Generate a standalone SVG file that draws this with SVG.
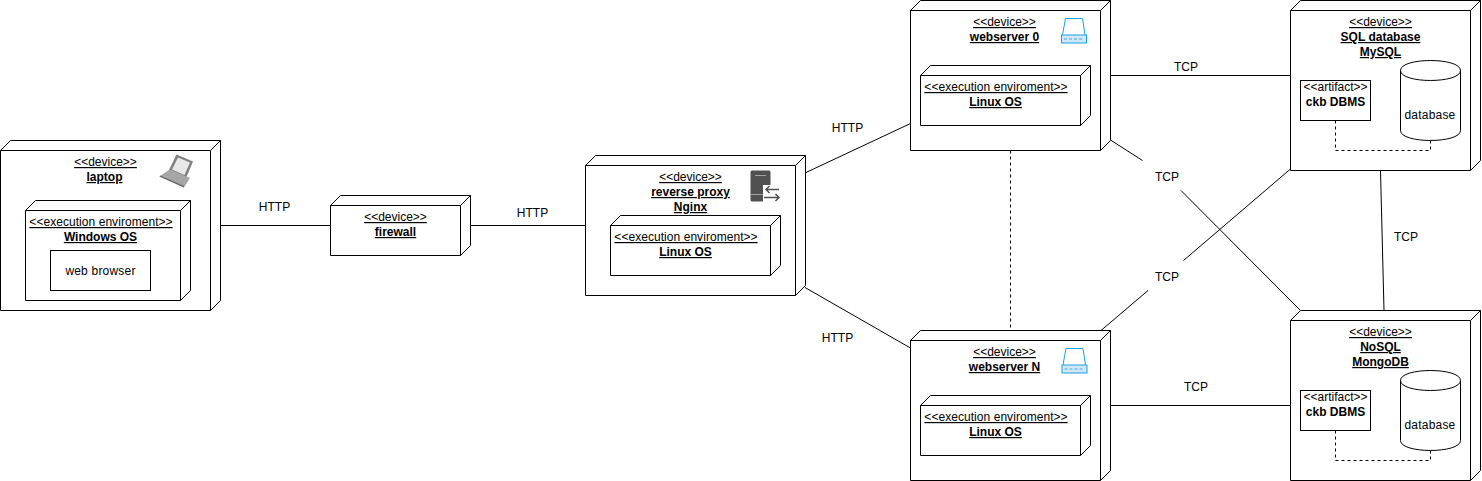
<svg xmlns="http://www.w3.org/2000/svg" width="1482" height="481" viewBox="0 0 1482 481">
<style>
text{font-family:"Liberation Sans",Arial,sans-serif;font-size:12px;fill:#000;text-anchor:middle}
.u{text-decoration:underline}
.b{font-weight:bold}
.w{letter-spacing:.2px}
.s{fill:#fff;stroke:#000;stroke-width:1}
.n{fill:none;stroke:#000;stroke-width:1}
.d{fill:none;stroke:#000;stroke-width:1;stroke-dasharray:3 3}
.c{fill:none;stroke:#000;stroke-width:1}
.hub{fill:none;stroke:#1ba1e2;stroke-width:1}
.hubb{fill:#cfe8f7;stroke:#1ba1e2;stroke-width:1}
.hubd{stroke:#7fb8de;stroke-width:1.5;stroke-dasharray:3 2;fill:none}
</style>
<defs>
<symbol id="cyl" overflow="visible">
<path class="s" d="M0 10C0-3.3 60-3.3 60 10V70C60 83.3 0 83.3 0 70Z"/>
<path class="n" d="M0 10C0 23.3 60 23.3 60 10"/>
</symbol>
<symbol id="hubicon" overflow="visible">
<path class="hub" d="M1.5 17L4.5 0.5H21.5L24 17"/>
<rect class="hubb" x="0.5" y="17" width="25" height="8"/>
<path class="hubd" d="M3 21H23"/>
</symbol>
</defs>

<g id="connectors">
<path class="c" d="M220.5 225.5H330.5"/>
<path class="c" d="M470.5 225.5H585.5"/>
<path class="c" d="M806 172.5L910.5 123.5"/>
<path class="c" d="M805 287.5L910.5 348"/>
<path class="c" d="M1110.5 75.5H1290.5"/>
<path class="c" d="M1110.5 405.5H1290.5"/>
<path class="c" d="M1110.5 140L1142.5 160.5"/>
<path class="c" d="M1181 190.5L1300.5 310.5"/>
<path class="c" d="M1290.5 169L1183.5 260.5"/>
<path class="c" d="M1148 290.5L1101 330.5"/>
<path class="c" d="M1380.5 170.5L1384 310.5"/>
<path class="d" d="M1010.5 150.5V330.5"/>
</g>

<g id="connector-labels">
<text x="274.5" y="211">HTTP</text>
<text x="532.5" y="217">HTTP</text>
<text x="847.5" y="132">HTTP</text>
<text x="837.5" y="342">HTTP</text>
<text x="1186" y="71">TCP</text>
<text x="1167" y="181">TCP</text>
<text x="1167" y="281">TCP</text>
<text x="1196" y="391">TCP</text>
<text x="1406" y="241">TCP</text>
</g>

<g id="laptop">
<path class="s" d="M0.5 150.5L10.5 140.5H220.5V300.5L210.5 310.5H0.5Z"/>
<path class="n" d="M0.5 150.5H210.5V310.5M210.5 150.5L220.5 140.5"/>
<text class="u" x="105.5" y="166">&lt;&lt;device&gt;&gt;</text>
<text class="u b" x="104.5" y="181">laptop</text>
<path fill="#808080" d="M176.5 154.5L193 161.5L186 178L169 170Z"/>
<path fill="#e8e8e8" d="M178 157.5L190 162.5L184.5 175L172 169.5Z"/>
<path fill="#a6a6a6" d="M169.5 169.5L159.5 176.5L184 187.5L190 178Z"/>
<path fill="#666" d="M159.5 176.5L184 187.5L184 186L160 175.5Z"/>
<g id="windows-os">
<path class="s" d="M25.5 210.5L35.5 200.5H190.5V290.5L180.5 300.5H25.5Z"/>
<path class="n" d="M25.5 210.5H180.5V300.5M180.5 210.5L190.5 200.5"/>
<text class="u" x="101" y="226" style="letter-spacing:.05px">&lt;&lt;execution enviroment&gt;&gt;</text>
<text class="u b" x="100.5" y="241">Windows OS</text>
</g>
<g id="web-browser">
<rect class="s" x="50.5" y="250.5" width="100" height="40"/>
<text class="w" x="100.5" y="275">web browser</text>
</g>
</g>

<g id="firewall">
<path class="s" d="M330.5 205.5L340.5 195.5H470.5V245.5L460.5 255.5H330.5Z"/>
<path class="n" d="M330.5 205.5H460.5V255.5M460.5 205.5L470.5 195.5"/>
<text class="u" x="395.5" y="221">&lt;&lt;device&gt;&gt;</text>
<text class="u b" x="395.5" y="236">firewall</text>
</g>

<g id="reverse-proxy">
<path class="s" d="M585.5 165.5L595.5 155.5H805.5V285.5L795.5 295.5H585.5Z"/>
<path class="n" d="M585.5 165.5H795.5V295.5M795.5 165.5L805.5 155.5"/>
<text class="u" x="690.5" y="181">&lt;&lt;device&gt;&gt;</text>
<text class="u b" x="690.5" y="196">reverse proxy</text>
<text class="u b" x="690.5" y="211">Nginx</text>
<rect x="750.5" y="170.5" width="20" height="31" rx="1.5" fill="#505050"/>
<path fill="none" stroke="#a0a0a0" stroke-width="1" d="M755 175.5H766M751 194.5H764"/>
<path fill="#fff" d="M763 185H781V202H763Z"/>
<path fill="none" stroke="#505050" stroke-width="1.5" d="M779 189.5H765.500M769.500 186L766 189.500L769.500 193M764 197.500H779M775.500 194L779 197.500L775.500 201"/>
<g id="proxy-linux-os">
<path class="s" d="M610.5 225.5L620.5 215.5H780.5V265.5L770.5 275.5H610.5Z"/>
<path class="n" d="M610.5 225.5H770.5V275.5M770.5 225.5L780.5 215.5"/>
<text class="u" x="686" y="241" style="letter-spacing:.05px">&lt;&lt;execution enviroment&gt;&gt;</text>
<text class="u b" x="685.5" y="256">Linux OS</text>
</g>
</g>

<g id="webserver-0">
<path class="s" d="M910.5 10.5L920.5 0.5H1110.5V140.5L1100.5 150.5H910.5Z"/>
<path class="n" d="M910.5 10.5H1100.5V150.5M1100.5 10.5L1110.5 0.5"/>
<text class="u" x="1004.5" y="26">&lt;&lt;device&gt;&gt;</text>
<text class="u b" x="1004.5" y="41">webserver 0</text>
<use href="#hubicon" x="1061" y="18"/>
<g id="ws0-linux-os">
<path class="s" d="M920.5 75.5L930.5 65.5H1090.5V115.5L1080.5 125.5H920.5Z"/>
<path class="n" d="M920.5 75.5H1080.5V125.5M1080.5 75.5L1090.5 65.5"/>
<text class="u" x="996" y="91" style="letter-spacing:.05px">&lt;&lt;execution enviroment&gt;&gt;</text>
<text class="u b" x="995.5" y="106">Linux OS</text>
</g>
</g>

<g id="webserver-n">
<path class="s" d="M910.5 340.5L920.5 330.5H1110.5V470.5L1100.5 480.5H910.5Z"/>
<path class="n" d="M910.5 340.5H1100.5V480.5M1100.5 340.5L1110.5 330.5"/>
<text class="u" x="1004.5" y="356">&lt;&lt;device&gt;&gt;</text>
<text class="u b" x="1004.5" y="371">webserver N</text>
<use href="#hubicon" x="1061.5" y="348"/>
<g id="wsn-linux-os">
<path class="s" d="M920.5 405.5L930.5 395.5H1090.5V445.5L1080.5 455.5H920.5Z"/>
<path class="n" d="M920.5 405.5H1080.5V455.5M1080.5 405.5L1090.5 395.5"/>
<text class="u" x="996" y="421" style="letter-spacing:.05px">&lt;&lt;execution enviroment&gt;&gt;</text>
<text class="u b" x="995.5" y="436">Linux OS</text>
</g>
</g>

<g id="sql-database">
<path class="s" d="M1290.5 10.5L1300.5 0.5H1480.5V160.5L1470.5 170.5H1290.5Z"/>
<path class="n" d="M1290.5 10.5H1470.5V170.5M1470.5 10.5L1480.5 0.5"/>
<text class="u" x="1380.5" y="26">&lt;&lt;device&gt;&gt;</text>
<text class="u b" x="1380.5" y="41">SQL database</text>
<text class="u b" x="1380.5" y="56">MySQL</text>
<g id="sql-artifact">
<rect class="s" x="1300.5" y="80.5" width="70" height="40"/>
<text x="1335.5" y="91">&lt;&lt;artifact&gt;&gt;</text>
<text class="b" x="1335.5" y="106">ckb DBMS</text>
</g>
<g id="sql-store">
<use href="#cyl" x="1400.5" y="60.5"/>
<text class="w" x="1430" y="119">database</text>
</g>
<path class="d" d="M1335.5 120.5V150.5H1430.5V140.5"/>
</g>

<g id="nosql">
<path class="s" d="M1290.5 320.5L1300.5 310.5H1480.5V470.5L1470.5 480.5H1290.5Z"/>
<path class="n" d="M1290.5 320.5H1470.5V480.5M1470.5 320.5L1480.5 310.5"/>
<text class="u" x="1380.5" y="336">&lt;&lt;device&gt;&gt;</text>
<text class="u b" x="1380.5" y="351">NoSQL</text>
<text class="u b" x="1380.5" y="366">MongoDB</text>
<g id="nosql-artifact">
<rect class="s" x="1300.5" y="390.5" width="70" height="40"/>
<text x="1335.5" y="401">&lt;&lt;artifact&gt;&gt;</text>
<text class="b" x="1335.5" y="416">ckb DBMS</text>
</g>
<g id="nosql-store">
<use href="#cyl" x="1400.5" y="370.5"/>
<text class="w" x="1430" y="429">database</text>
</g>
<path class="d" d="M1335.5 430.5V460.5H1430.5V450.5"/>
</g>
</svg>
